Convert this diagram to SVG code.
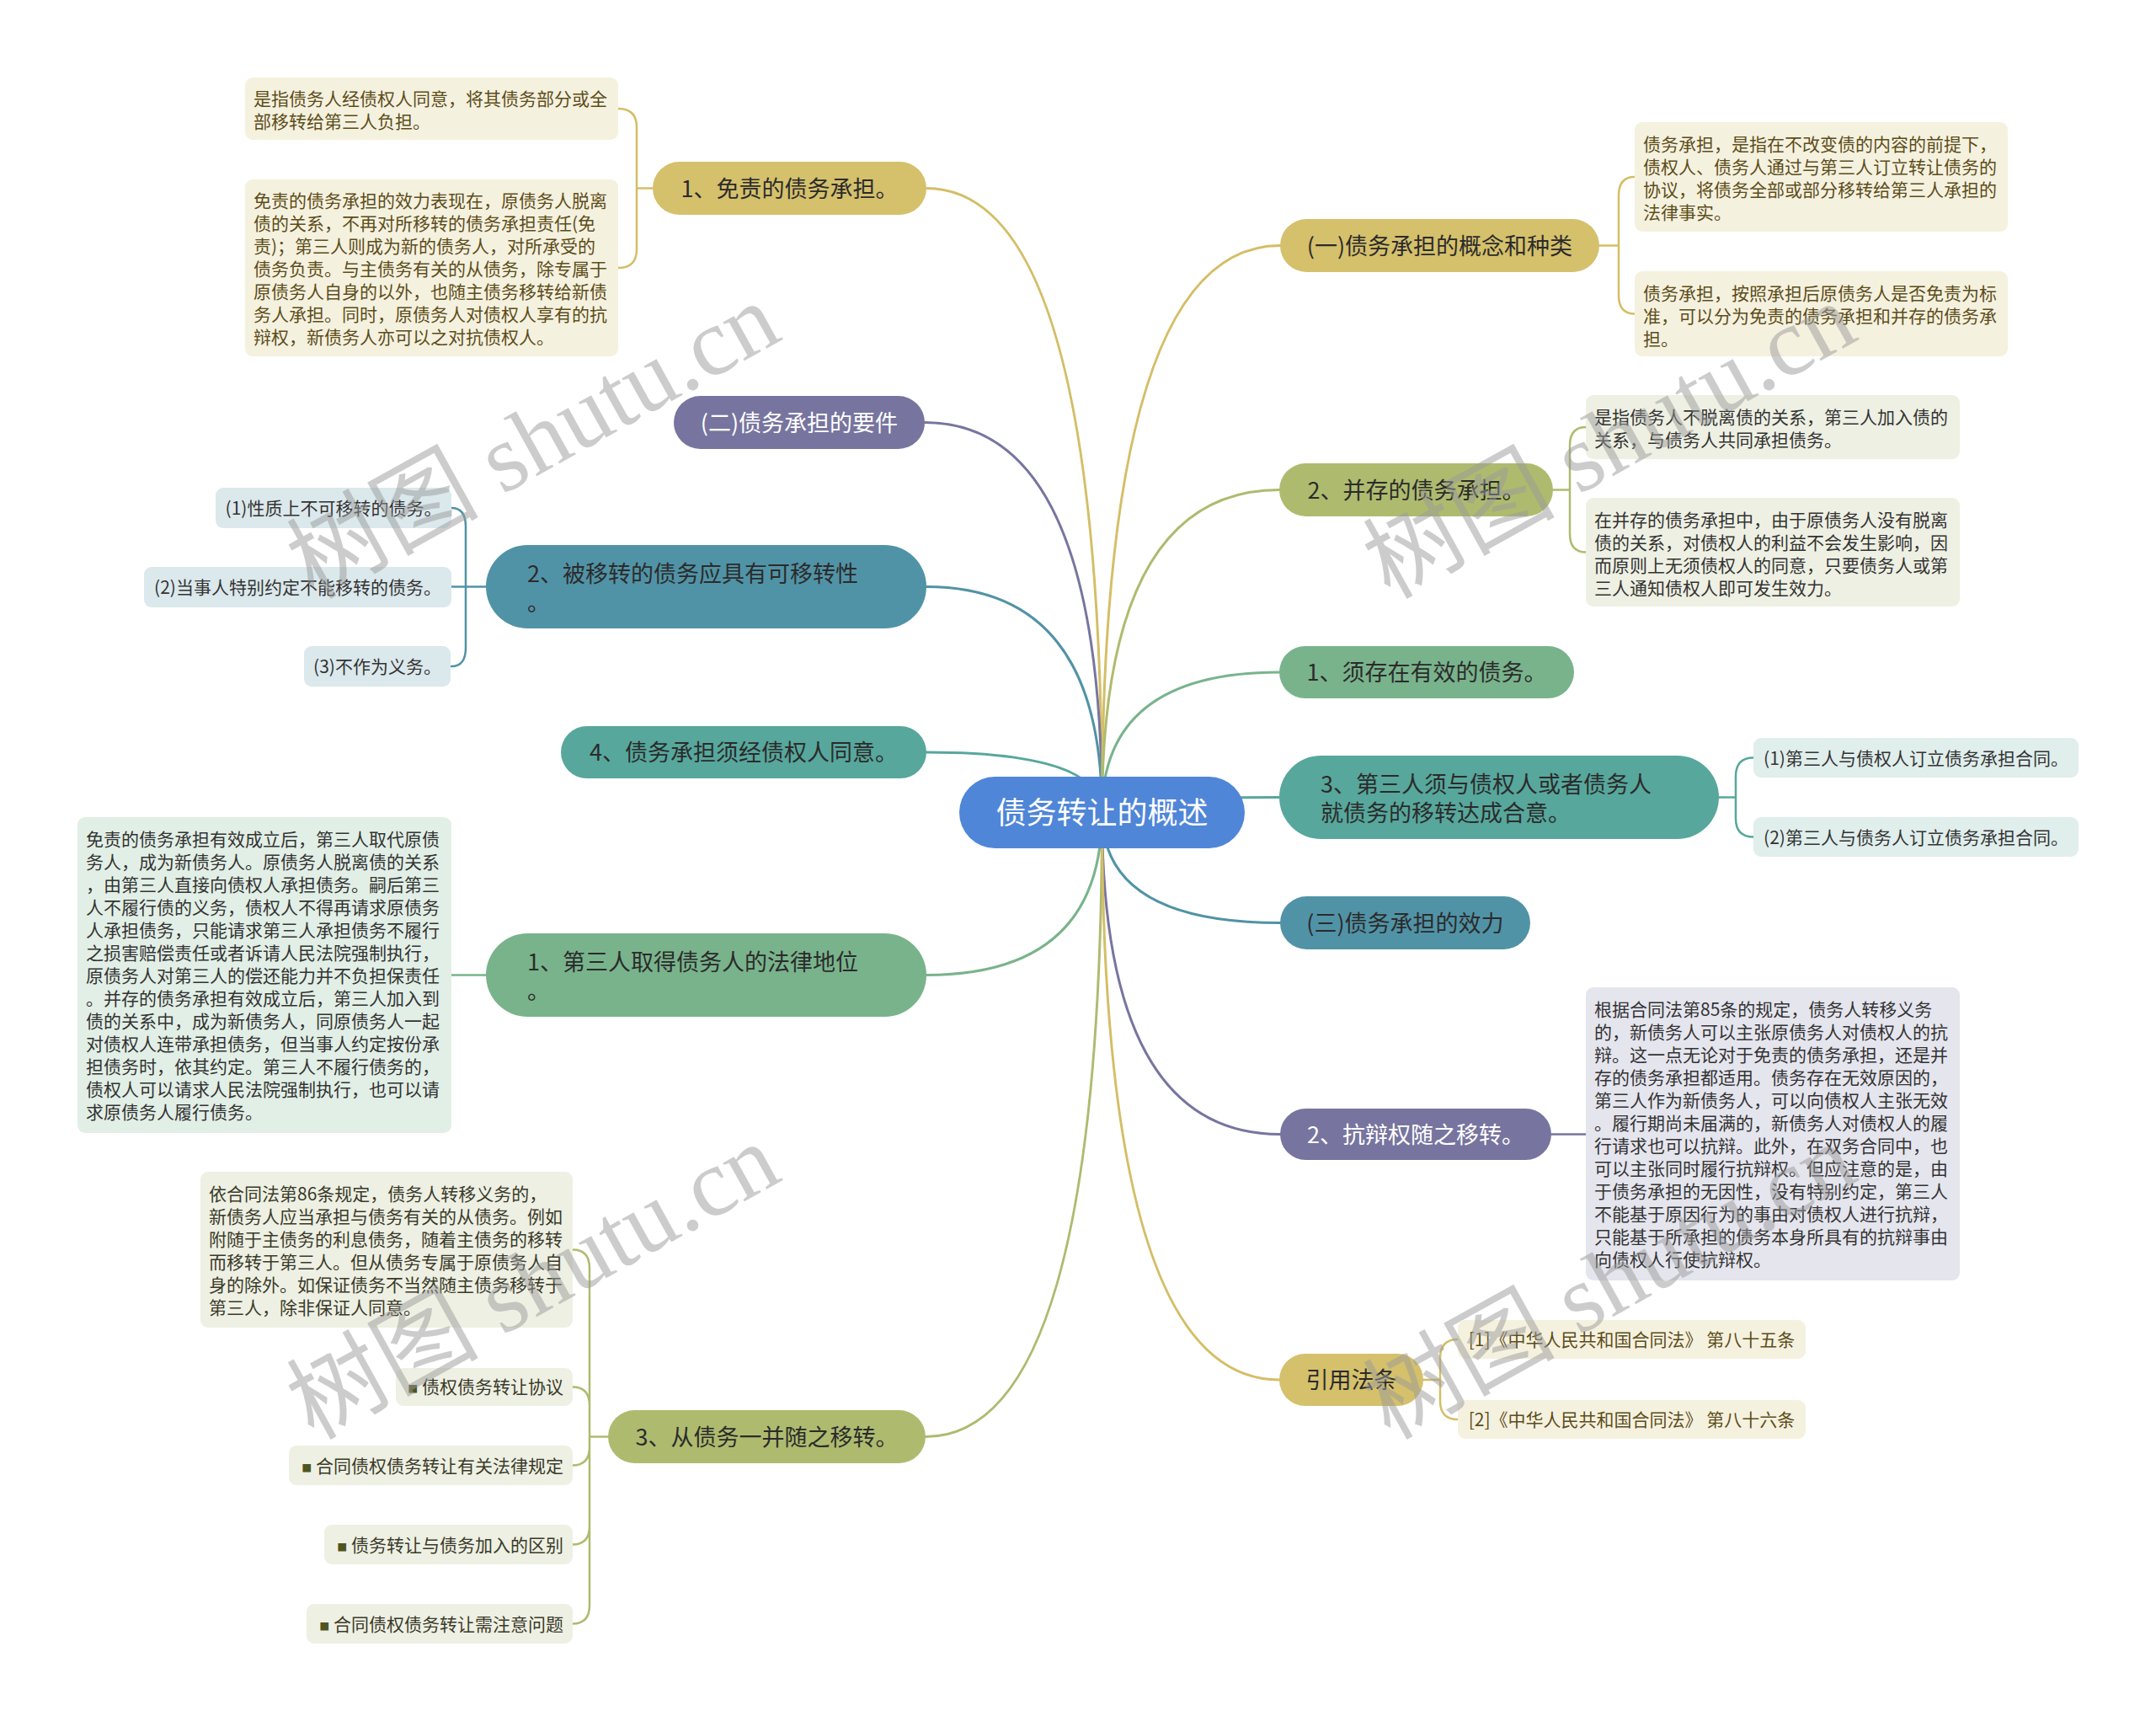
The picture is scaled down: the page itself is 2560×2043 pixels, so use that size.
<svg xmlns="http://www.w3.org/2000/svg" width="2560" height="2043" viewBox="0 0 2560 2043">
<style>
text{font-family:"Noto Sans CJK SC","Noto Sans",sans-serif;}
.root{font-size:36px;fill:#ffffff;text-anchor:middle;}
.mn{font-size:27px;fill:#2b2b2b;}
.mc{text-anchor:middle;}
.wt{fill:#ffffff;}
.lf{font-size:21px;fill:#333333;}
.lc{text-anchor:middle;}
.le{text-anchor:end;}
.gtx{fill:#5c4d1a;}
.otx{fill:#3a3a2a;}
.bul{font-size:12px;fill:#4f5520;}
.c{fill:none;stroke-width:3;stroke-linecap:round;}
.b{fill:none;stroke-width:2.5;stroke-linecap:round;}
.gold{stroke:#d4be66;} .olive{stroke:#aebb6f;} .green{stroke:#79b38c;} .teal{stroke:#57a79c;} .dteal{stroke:#5193a6;} .purple{stroke:#77759f;}
.fgold{fill:#d5c06c;} .folive{fill:#aebb6f;} .fgreen{fill:#79b38c;} .fteal{fill:#57a79c;} .fdteal{fill:#5193a6;} .fpurple{fill:#77759f;}
.lgold{fill:#f5f1df;} .lolive{fill:#eef0e3;} .lgreen{fill:#e2efe6;} .lteal{fill:#e0eeec;} .ldteal{fill:#dbe8ec;} .lpurple{fill:#e5e5ee;}
.wm{font-family:"Liberation Serif","Noto Sans CJK SC",serif;font-size:114px;fill:#9a9a9a;fill-opacity:0.5;}
</style>
<rect width="2560" height="2043" fill="#ffffff"/>

<g id="connectors">
  <path class="c gold" d="M1308.5 964.5 Q1308.5 223.5 1100 223.5"/>
  <path class="c purple" d="M1308.5 964.5 Q1308.5 501.5 1098 501.5"/>
  <path class="c dteal" d="M1308.5 964.5 Q1308.5 696.5 1100 696.5"/>
  <path class="c teal" d="M1308.5 964.5 Q1308.5 893 1100 893"/>
  <path class="c green" d="M1308.5 964.5 Q1308.5 1157.5 1100 1157.5"/>
  <path class="c olive" d="M1308.5 964.5 Q1308.5 1705.5 1099 1705.5"/>
  <path class="c gold" d="M1308.5 964.5 Q1308.5 291.5 1520 291.5"/>
  <path class="c olive" d="M1308.5 964.5 Q1308.5 581.5 1519 581.5"/>
  <path class="c green" d="M1308.5 964.5 Q1308.5 798 1519 798"/>
  <path class="c teal" d="M1308.5 964.5 Q1308.5 946.5 1519 946.5"/>
  <path class="c dteal" d="M1308.5 964.5 Q1308.5 1095.5 1520 1095.5"/>
  <path class="c purple" d="M1308.5 964.5 Q1308.5 1346.5 1520 1346.5"/>
  <path class="c gold" d="M1308.5 964.5 Q1308.5 1638 1519 1638"/>

  <path class="b gold" d="M775 223.5 H756 M756 223.5 V151 Q756 129 734 129 M756 223.5 V296 Q756 318 734 318"/>
  <path class="b gold" d="M1899 291.5 H1922 M1922 291.5 V232 Q1922 210 1941 210 M1922 291.5 V350.5 Q1922 372.5 1941 372.5"/>
  <path class="b olive" d="M1844 581.5 H1864 M1864 581.5 V529 Q1864 507 1883 507 M1864 581.5 V633.5 Q1864 655.5 1883 655.5"/>
  <path class="b teal" d="M2041 946.5 H2061 M2061 946.5 V921.5 Q2061 899.5 2082 899.5 M2061 946.5 V971.5 Q2061 993.5 2082 993.5"/>
  <path class="b gold" d="M1690 1638 H1710 M1710 1638 V1612 Q1710 1590 1731 1590 M1710 1638 V1663 Q1710 1685 1731 1685"/>
  <path class="b dteal" d="M577 696.5 H553 M553 696.5 V625 Q553 603 536 603 M553 696.5 H536 M553 696.5 V769 Q553 791 536 791"/>
  <path class="b olive" d="M722 1705.5 H700 M700 1705.5 V1505.5 Q700 1483.5 680 1483.5 M700 1705.5 V1668.5 Q700 1646.5 680 1646.5 M700 1705.5 V1717.5 Q700 1739.5 680 1739.5 M700 1705.5 V1811.5 Q700 1833.5 680 1833.5 M700 1705.5 V1905.5 Q700 1927.5 680 1927.5"/>
  <path class="b green" d="M577 1157.5 H536"/>
  <path class="b purple" d="M1842 1346.5 H1883"/>
</g>

<g id="root">
  <rect x="1139" y="922" width="339" height="85" rx="42.5" fill="#4f86d8"/>
  <text class="root" x="1308.5" y="978">债务转让的概述</text>
</g>

<g id="n-l1">
  <rect class="fgold" x="775" y="192" width="325" height="63" rx="31.5"/>
  <text class="mn mc" x="937.5" y="234">1、免责的债务承担。</text>
</g>
<g id="n-l1-a">
  <rect class="lgold" x="291" y="92" width="443" height="74" rx="9"/>
  <text class="lf gtx" x="301" y="125"><tspan x="301">是指债务人经债权人同意，将其债务部分或全</tspan><tspan x="301" dy="27">部移转给第三人负担。</tspan></text>
</g>
<g id="n-l1-b">
  <rect class="lgold" x="291" y="213" width="443" height="210" rx="9"/>
  <text class="lf gtx" x="301" y="246"><tspan x="301">免责的债务承担的效力表现在，原债务人脱离</tspan><tspan x="301" dy="27">债的关系，不再对所移转的债务承担责任(免</tspan><tspan x="301" dy="27">责)；第三人则成为新的债务人，对所承受的</tspan><tspan x="301" dy="27">债务负责。与主债务有关的从债务，除专属于</tspan><tspan x="301" dy="27">原债务人自身的以外，也随主债务移转给新债</tspan><tspan x="301" dy="27">务人承担。同时，原债务人对债权人享有的抗</tspan><tspan x="301" dy="27">辩权，新债务人亦可以之对抗债权人。</tspan></text>
</g>

<g id="n-l2">
  <rect class="fpurple" x="800" y="470" width="298" height="63" rx="31.5"/>
  <text class="mn mc wt" x="949" y="511.5">(二)债务承担的要件</text>
</g>

<g id="n-l3">
  <rect class="fdteal" x="577" y="647" width="523" height="99" rx="49.5"/>
  <text class="mn" x="626" y="690.5"><tspan x="626">2、被移转的债务应具有可移转性</tspan><tspan x="626" dy="34">。</tspan></text>
</g>
<g id="n-l3-a">
  <rect class="ldteal" x="256" y="579" width="280" height="48" rx="9"/>
  <text class="lf lc" x="396" y="611">(1)性质上不可移转的债务。</text>
</g>
<g id="n-l3-b">
  <rect class="ldteal" x="171" y="673" width="365" height="48" rx="9"/>
  <text class="lf lc" x="353.5" y="705">(2)当事人特别约定不能移转的债务。</text>
</g>
<g id="n-l3-c">
  <rect class="ldteal" x="361" y="767" width="174" height="48" rx="9"/>
  <text class="lf lc" x="448" y="799">(3)不作为义务。</text>
</g>

<g id="n-l4">
  <rect class="fteal" x="666" y="862" width="434" height="62" rx="31"/>
  <text class="mn mc" x="883" y="903">4、债务承担须经债权人同意。</text>
</g>

<g id="n-l5">
  <rect class="fgreen" x="577" y="1108" width="523" height="99" rx="49.5"/>
  <text class="mn" x="626" y="1151.5"><tspan x="626">1、第三人取得债务人的法律地位</tspan><tspan x="626" dy="34">。</tspan></text>
</g>
<g id="n-l5-a">
  <rect class="lgreen" x="92" y="970" width="444" height="375" rx="9"/>
  <text class="lf" x="102" y="1003.5"><tspan x="102">免责的债务承担有效成立后，第三人取代原债</tspan><tspan x="102" dy="27">务人，成为新债务人。原债务人脱离债的关系</tspan><tspan x="102" dy="27">，由第三人直接向债权人承担债务。嗣后第三</tspan><tspan x="102" dy="27">人不履行债的义务，债权人不得再请求原债务</tspan><tspan x="102" dy="27">人承担债务，只能请求第三人承担债务不履行</tspan><tspan x="102" dy="27">之损害赔偿责任或者诉请人民法院强制执行，</tspan><tspan x="102" dy="27">原债务人对第三人的偿还能力并不负担保责任</tspan><tspan x="102" dy="27">。并存的债务承担有效成立后，第三人加入到</tspan><tspan x="102" dy="27">债的关系中，成为新债务人，同原债务人一起</tspan><tspan x="102" dy="27">对债权人连带承担债务，但当事人约定按份承</tspan><tspan x="102" dy="27">担债务时，依其约定。第三人不履行债务的，</tspan><tspan x="102" dy="27">债权人可以请求人民法院强制执行，也可以请</tspan><tspan x="102" dy="27">求原债务人履行债务。</tspan></text>
</g>

<g id="n-l6">
  <rect class="folive" x="722" y="1674" width="377" height="63" rx="31.5"/>
  <text class="mn mc" x="910.5" y="1715.5">3、从债务一并随之移转。</text>
</g>
<g id="n-l6-a">
  <rect class="lolive" x="238" y="1391" width="442" height="185" rx="9"/>
  <text class="lf otx" x="248" y="1424.5"><tspan x="248">依合同法第86条规定，债务人转移义务的，</tspan><tspan x="248" dy="27">新债务人应当承担与债务有关的从债务。例如</tspan><tspan x="248" dy="27">附随于主债务的利息债务，随着主债务的移转</tspan><tspan x="248" dy="27">而移转于第三人。但从债务专属于原债务人自</tspan><tspan x="248" dy="27">身的除外。如保证债务不当然随主债务移转于</tspan><tspan x="248" dy="27">第三人，除非保证人同意。</tspan></text>
</g>
<g id="n-l6-b">
  <rect class="lolive" x="470" y="1624" width="210" height="45" rx="9"/>
  <text class="lf otx le" x="669" y="1654"><tspan class="bul">■</tspan> 债权债务转让协议</text>
</g>
<g id="n-l6-c">
  <rect class="lolive" x="343" y="1716" width="337" height="47" rx="9"/>
  <text class="lf otx le" x="669" y="1747.5"><tspan class="bul">■</tspan> 合同债权债务转让有关法律规定</text>
</g>
<g id="n-l6-d">
  <rect class="lolive" x="385" y="1810" width="295" height="47" rx="9"/>
  <text class="lf otx le" x="669" y="1841.5"><tspan class="bul">■</tspan> 债务转让与债务加入的区别</text>
</g>
<g id="n-l6-e">
  <rect class="lolive" x="364" y="1904" width="316" height="47" rx="9"/>
  <text class="lf otx le" x="669" y="1935.5"><tspan class="bul">■</tspan> 合同债权债务转让需注意问题</text>
</g>

<g id="n-r1">
  <rect class="fgold" x="1520" y="260" width="379" height="63" rx="31.5"/>
  <text class="mn mc" x="1709.5" y="301.5">(一)债务承担的概念和种类</text>
</g>
<g id="n-r1-a">
  <rect class="lgold" x="1941" y="145" width="443" height="130" rx="9"/>
  <text class="lf gtx" x="1951" y="178.5"><tspan x="1951">债务承担，是指在不改变债的内容的前提下，</tspan><tspan x="1951" dy="27">债权人、债务人通过与第三人订立转让债务的</tspan><tspan x="1951" dy="27">协议，将债务全部或部分移转给第三人承担的</tspan><tspan x="1951" dy="27">法律事实。</tspan></text>
</g>
<g id="n-r1-b">
  <rect class="lgold" x="1941" y="322" width="443" height="101" rx="9"/>
  <text class="lf gtx" x="1951" y="355.5"><tspan x="1951">债务承担，按照承担后原债务人是否免责为标</tspan><tspan x="1951" dy="27">准，可以分为免责的债务承担和并存的债务承</tspan><tspan x="1951" dy="27">担。</tspan></text>
</g>

<g id="n-r2">
  <rect class="folive" x="1519" y="550" width="325" height="63" rx="31.5"/>
  <text class="mn mc" x="1681.5" y="591.5">2、并存的债务承担。</text>
</g>
<g id="n-r2-a">
  <rect class="lolive" x="1883" y="469" width="444" height="76" rx="9"/>
  <text class="lf" x="1893" y="502.5"><tspan x="1893">是指债务人不脱离债的关系，第三人加入债的</tspan><tspan x="1893" dy="27">关系，与债务人共同承担债务。</tspan></text>
</g>
<g id="n-r2-b">
  <rect class="lolive" x="1883" y="591" width="444" height="129" rx="9"/>
  <text class="lf" x="1893" y="624.5"><tspan x="1893">在并存的债务承担中，由于原债务人没有脱离</tspan><tspan x="1893" dy="27">债的关系，对债权人的利益不会发生影响，因</tspan><tspan x="1893" dy="27">而原则上无须债权人的同意，只要债务人或第</tspan><tspan x="1893" dy="27">三人通知债权人即可发生效力。</tspan></text>
</g>

<g id="n-r3">
  <rect class="fgreen" x="1519" y="767" width="350" height="62" rx="31"/>
  <text class="mn mc" x="1694" y="808">1、须存在有效的债务。</text>
</g>

<g id="n-r4">
  <rect class="fteal" x="1519" y="897" width="522" height="99" rx="49.5"/>
  <text class="mn" x="1568" y="940.5"><tspan x="1568">3、第三人须与债权人或者债务人</tspan><tspan x="1568" dy="34">就债务的移转达成合意。</tspan></text>
</g>
<g id="n-r4-a">
  <rect class="lteal" x="2082" y="876" width="386" height="47" rx="9"/>
  <text class="lf lc" x="2275" y="907.5">(1)第三人与债权人订立债务承担合同。</text>
</g>
<g id="n-r4-b">
  <rect class="lteal" x="2082" y="970" width="386" height="47" rx="9"/>
  <text class="lf lc" x="2275" y="1001.5">(2)第三人与债务人订立债务承担合同。</text>
</g>

<g id="n-r5">
  <rect class="fdteal" x="1520" y="1064" width="297" height="63" rx="31.5"/>
  <text class="mn mc" x="1668.5" y="1105.5">(三)债务承担的效力</text>
</g>

<g id="n-r6">
  <rect class="fpurple" x="1520" y="1316" width="322" height="61" rx="30.5"/>
  <text class="mn mc wt" x="1681" y="1356.5">2、抗辩权随之移转。</text>
</g>
<g id="n-r6-a">
  <rect class="lpurple" x="1883" y="1172" width="444" height="348" rx="9"/>
  <text class="lf" x="1893" y="1205.5"><tspan x="1893">根据合同法第85条的规定，债务人转移义务</tspan><tspan x="1893" dy="27">的，新债务人可以主张原债务人对债权人的抗</tspan><tspan x="1893" dy="27">辩。这一点无论对于免责的债务承担，还是并</tspan><tspan x="1893" dy="27">存的债务承担都适用。债务存在无效原因的，</tspan><tspan x="1893" dy="27">第三人作为新债务人，可以向债权人主张无效</tspan><tspan x="1893" dy="27">。履行期尚未届满的，新债务人对债权人的履</tspan><tspan x="1893" dy="27">行请求也可以抗辩。此外，在双务合同中，也</tspan><tspan x="1893" dy="27">可以主张同时履行抗辩权。但应注意的是，由</tspan><tspan x="1893" dy="27">于债务承担的无因性，没有特别约定，第三人</tspan><tspan x="1893" dy="27">不能基于原因行为的事由对债权人进行抗辩，</tspan><tspan x="1893" dy="27">只能基于所承担的债务本身所具有的抗辩事由</tspan><tspan x="1893" dy="27">向债权人行使抗辩权。</tspan></text>
</g>

<g id="n-r7">
  <rect class="fgold" x="1519" y="1607" width="171" height="62" rx="31"/>
  <text class="mn mc" x="1604.5" y="1648">引用法条</text>
</g>
<g id="n-r7-a">
  <rect class="lgold" x="1731" y="1567" width="413" height="46" rx="9"/>
  <text class="lf gtx lc" x="1937.5" y="1598">[1]《中华人民共和国合同法》 第八十五条</text>
</g>
<g id="n-r7-b">
  <rect class="lgold" x="1731" y="1662" width="413" height="46" rx="9"/>
  <text class="lf gtx lc" x="1937.5" y="1693">[2]《中华人民共和国合同法》 第八十六条</text>
</g>

<g id="watermarks">
  <text class="wm" x="372" y="712" transform="rotate(-29 372 712)">树图 shutu.cn</text>
  <text class="wm" x="1650" y="712" transform="rotate(-29 1650 712)">树图 shutu.cn</text>
  <text class="wm" x="372" y="1710" transform="rotate(-29 372 1710)">树图 shutu.cn</text>
  <text class="wm" x="1650" y="1710" transform="rotate(-29 1650 1710)">树图 shutu.cn</text>
</g>
</svg>
